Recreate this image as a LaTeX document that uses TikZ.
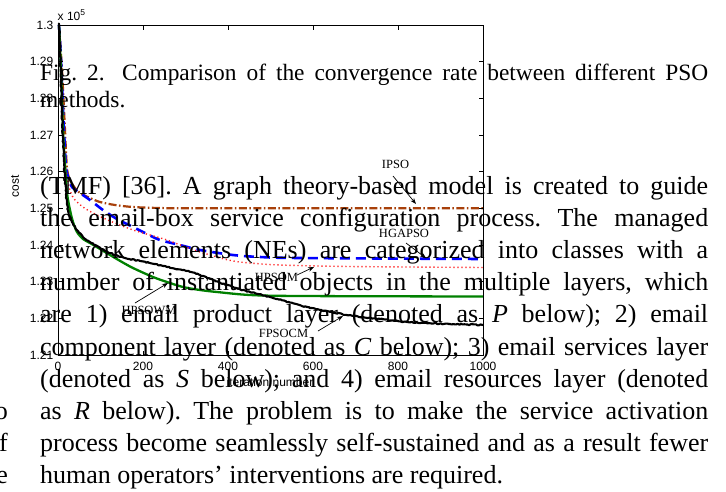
\documentclass[tikz,border=0pt]{standalone}
\usepackage{fontspec}
\setmainfont{Liberation Serif}
\newfontfamily\plotsans{Liberation Sans}
\usetikzlibrary{arrows.meta,decorations.pathmorphing}
\definecolor{ipsocol}{RGB}{168,64,10}
\definecolor{hgacol}{RGB}{0,0,255}
\definecolor{hpsomcol}{RGB}{255,30,30}
\definecolor{wmcol}{RGB}{0,128,0}
\frenchspacing
\tikzset{
  ticklab/.style={font=\plotsans\fontsize{12}{14}\selectfont, inner sep=0},
  curvelab/.style={font=\fontsize{12.5}{14}\selectfont, inner sep=0},
  bodyline/.style={anchor=base west, inner sep=0, font=\fontsize{26}{32}\selectfont},
  capline/.style={anchor=base west, inner sep=0, font=\fontsize{23.4}{27}\selectfont},
  pointer/.style={-{Stealth[length=6pt,width=4.5pt]}, line width=0.7pt},
  axisline/.style={line width=0.8pt},
  tickmark/.style={line width=0.6pt},
  curve/.style={line join=round, line cap=butt}
}
\begin{document}
\begin{tikzpicture}[x=1pt,y=-1pt]
\useasboundingbox (0,0) rectangle (726,491);
\fill[white] (0,0) rectangle (726,491);

% ---------- curves ----------
\draw[curve, ipsocol, line width=2.2pt, dash pattern=on 8pt off 2.5pt on 1.5pt off 2.5pt]
  plot[smooth, tension=0.5] coordinates {(59,25) (62,70) (65,130) (67,168) (70,180) (75,188) (80,193) (90,198) (100,202) (115,205) (133,207) (160,208) (200,208.3) (483,208.3)};
\draw[curve, hgacol, line width=2.6pt, dash pattern=on 10pt off 6pt]
  plot[smooth, tension=0.5] coordinates {(59,25) (61,60) (63,110) (65,150) (66,168) (69,180) (72,187) (80,193) (90,200) (103,210) (117,219) (133,227) (147,234) (160,240) (180,245) (200,250) (233,255) (260,257) (300,258) (483,259)};
\draw[curve, hpsomcol, line width=1.4pt, dash pattern=on 1.2pt off 2.8pt]
  plot[smooth, tension=0.5] coordinates {(59,25) (61,70) (63,120) (65,160) (68,182) (71,193) (75,200) (83,207) (93,213) (110,221) (133,230) (150,235) (167,240) (183,246) (200,252) (217,257) (233,261) (250,263) (280,265) (350,266.5) (483,267.5)};
\draw[curve, wmcol, line width=2.3pt]
  plot[smooth, tension=0.5] coordinates {(59,25) (61,70) (63,130) (65,165) (67,193) (70,210) (73,222) (77,232) (83,239) (90,243) (100,249) (110,255) (122,262) (133,268) (153,277) (167,282) (183,287) (200,290) (217,292) (250,295) (300,296) (483,296.5)};
\pgfmathsetseed{7}
\draw[curve, black, line width=2.1pt, decorate, decoration={random steps, segment length=1.6pt, amplitude=0.55pt}]
  plot[smooth, tension=0.5] coordinates {(59,25) (61,80) (63,140) (65,180) (68,210) (72,222) (77,230) (83,237) (90,242) (100,248) (110,253) (125,258) (140,261) (155,264) (167,267) (187,271) (200,275) (213,280) (233,287) (250,292) (270,297) (307,307) (347,315) (380,319) (407,322) (450,324) (483,325)};

% ---------- axes ----------
\draw[axisline] (58,25) rectangle (483,355);
\foreach \i in {1,...,8} {
  \draw[tickmark] (58,{25+\i*36.667}) -- (62.5,{25+\i*36.667});
  \draw[tickmark] (483,{25+\i*36.667}) -- (478.5,{25+\i*36.667});
}
\foreach \i in {1,...,4} {
  \draw[tickmark] ({58+\i*85},355) -- ({58+\i*85},350.5);
  \draw[tickmark] ({58+\i*85},25) -- ({58+\i*85},29.5);
}
\foreach \lab [count=\i] in {1.3,1.29,1.28,1.27,1.26,1.25,1.24,1.23,1.22,1.21}
  \node[ticklab, anchor=east] (yt\i) at (53.5,{25+(\i-1)*36.667}) {\lab};
\foreach \lab [count=\i] in {0,200,400,600,800,1000}
  \node[ticklab] (xt\i) at ({58+(\i-1)*85},366) {\lab};
\node[ticklab, anchor=west] (expo) at (57.5,15) {x 10\raisebox{5pt}{\fontsize{8.5}{9}\selectfont 5}};
\node[ticklab, rotate=90] (ylab) at (15,186) {cost};
\node[ticklab] (xlab) at (270,382) {iteration number};

% ---------- curve labels ----------
\node[curvelab] (lipso) at (395.5,164) {IPSO};
\coordinate (aipso) at (393,176);
\coordinate (tipso) at (416,204);
\draw[pointer] (aipso) -- (tipso);
\node[curvelab] (lhga) at (404,233) {HGAPSO};
\coordinate (ahga) at (406,243);
\coordinate (thga) at (426,258);
\draw[pointer] (ahga) -- (thga);
\node[curvelab] (lhpsom) at (276.5,277.5) {HPSOM};
\coordinate (ahpsom) at (297,275);
\coordinate (thpsom) at (314,267);
\draw[pointer] (ahpsom) -- (thpsom);
\node[curvelab] (lwm) at (149,310) {HPSOWM};
\coordinate (awm) at (135,303);
\coordinate (twm) at (168,283);
\draw[pointer] (awm) -- (twm);
\node[curvelab] (lfps) at (283.5,333) {FPSOCM};
\coordinate (afps) at (318,331);
\coordinate (tfps) at (343,316);
\draw[pointer] (afps) -- (tfps);

% ---------- overlaid page text ----------
\node[capline] (c1) at (40,80) {\makebox[668pt][s]{Fig. 2.\hspace{17.5pt}Comparison of the convergence rate between different PSO}};
\node[capline] (c2) at (40,107) {methods.};
\node[bodyline] (b1) at (40,194.5) {\makebox[668pt][s]{(TMF) [36]. A graph theory-based model is created to guide}};
\node[bodyline] (b2) at (40,226.6) {\makebox[668pt][s]{the email-box service configuration process. The managed}};
\node[bodyline] (b3) at (40,258.7) {\makebox[668pt][s]{network elements (NEs) are categorized into classes with a}};
\node[bodyline] (b4) at (40,290.8) {\makebox[668pt][s]{number of instantiated objects in the multiple layers, which}};
\node[bodyline] (b5) at (40,322.9) {\makebox[668pt][s]{are 1) email product layer (denoted as \textit{P} below); 2) email}};
\node[bodyline] (b6) at (40,355) {\makebox[668pt][s]{component layer (denoted as \textit{C} below); 3) email services layer}};
\node[bodyline] (b7) at (40,387.1) {\makebox[668pt][s]{(denoted as \textit{S} below); and 4) email resources layer (denoted}};
\node[bodyline] (b8) at (40,419.2) {\makebox[668pt][s]{as \textit{R} below). The problem is to make the service activation}};
\node[bodyline] (b9) at (40,451.3) {\makebox[668pt][s]{process become seamlessly self-sustained and as a result fewer}};
\node[bodyline] (b10) at (40,483.4) {human operators’ interventions are required.};
\node[bodyline, anchor=base east] (m1) at (8,419.2) {o};
\node[bodyline, anchor=base east] (m2) at (8,451.3) {f};
\node[bodyline, anchor=base east] (m3) at (8,483.4) {e};
\end{tikzpicture}
\end{document}
